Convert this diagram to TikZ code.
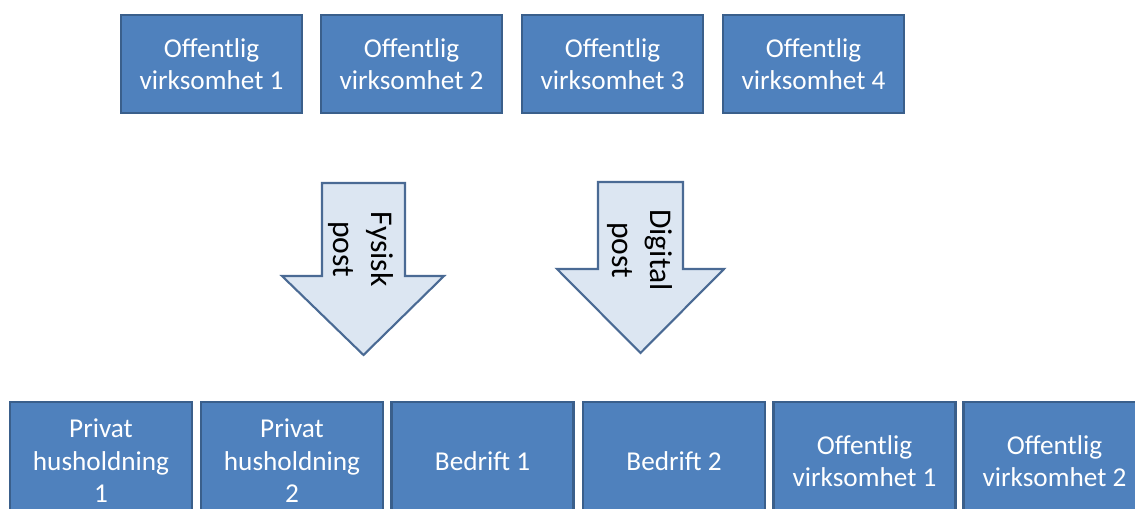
\documentclass[tikz,border=0pt]{standalone}
\usepackage{fontspec}
\setmainfont{Carlito}
\definecolor{boxfill}{HTML}{4F81BD}
\definecolor{boxline}{HTML}{3A5F8B}
\definecolor{arrowfill}{HTML}{DCE6F2}
\definecolor{arrowline}{HTML}{4A6A94}
\tikzset{
  unit/.style={draw=boxline,fill=boxfill,line width=1.2pt,text=white,align=center,
    inner sep=2pt,font=\fontsize{15.5}{18.5}\selectfont},
  topunit/.style={unit,minimum width=3.62cm,minimum height=1.96cm},
  lowunit/.style={unit,minimum width=3.64cm,minimum height=2.36cm},
  flow/.style={draw=arrowline,fill=arrowfill,line width=1.2pt,line join=miter},
  flowtext/.style={rotate=-90,align=center,inner sep=0pt,font=\fontsize{18}{21.5}\selectfont},
}
\begin{document}
\begin{tikzpicture}[x=0.02cm,y=-0.02cm]
\clip (0,0) rectangle (1135,509);
%% senders
 \node (send_1) at (211.5,64) [topunit] {Offentlig\\virksomhet 1};
 \node (send_2) at (411.5,64) [topunit] {Offentlig\\virksomhet 2};
 \node (send_3) at (612.5,64) [topunit] {Offentlig\\virksomhet 3};
 \node (send_4) at (813.5,64) [topunit] {Offentlig\\virksomhet 4};
%% channels
 \draw [flow] (322,183) -- (405,183) -- (405,276) -- (444,276) -- (363.5,355)
   -- (282,276) -- (322,276) -- cycle;
 \draw [flow] (598,182) -- (683,182) -- (683,269) -- (724,269) -- (640.5,353)
   -- (557,269) -- (598,269) -- cycle;
 \node (chan_1) at (361,249) [flowtext] {Fysisk\\post};
 \node (chan_2) at (640,250) [flowtext] {Digital\\post};
%% receivers
 \node (recv_1) at (101,461) [lowunit] {Privat\\husholdning\\1};
 \node (recv_2) at (292,461) [lowunit] {Privat\\husholdning\\2};
 \node (recv_3) at (482.5,461) [lowunit] {Bedrift 1};
 \node (recv_4) at (674,461) [lowunit] {Bedrift 2};
 \node (recv_5) at (864.5,461) [lowunit] {Offentlig\\virksomhet 1};
 \node (recv_6) at (1054.5,461) [lowunit] {Offentlig\\virksomhet 2};
%
\end{tikzpicture}
\end{document}
